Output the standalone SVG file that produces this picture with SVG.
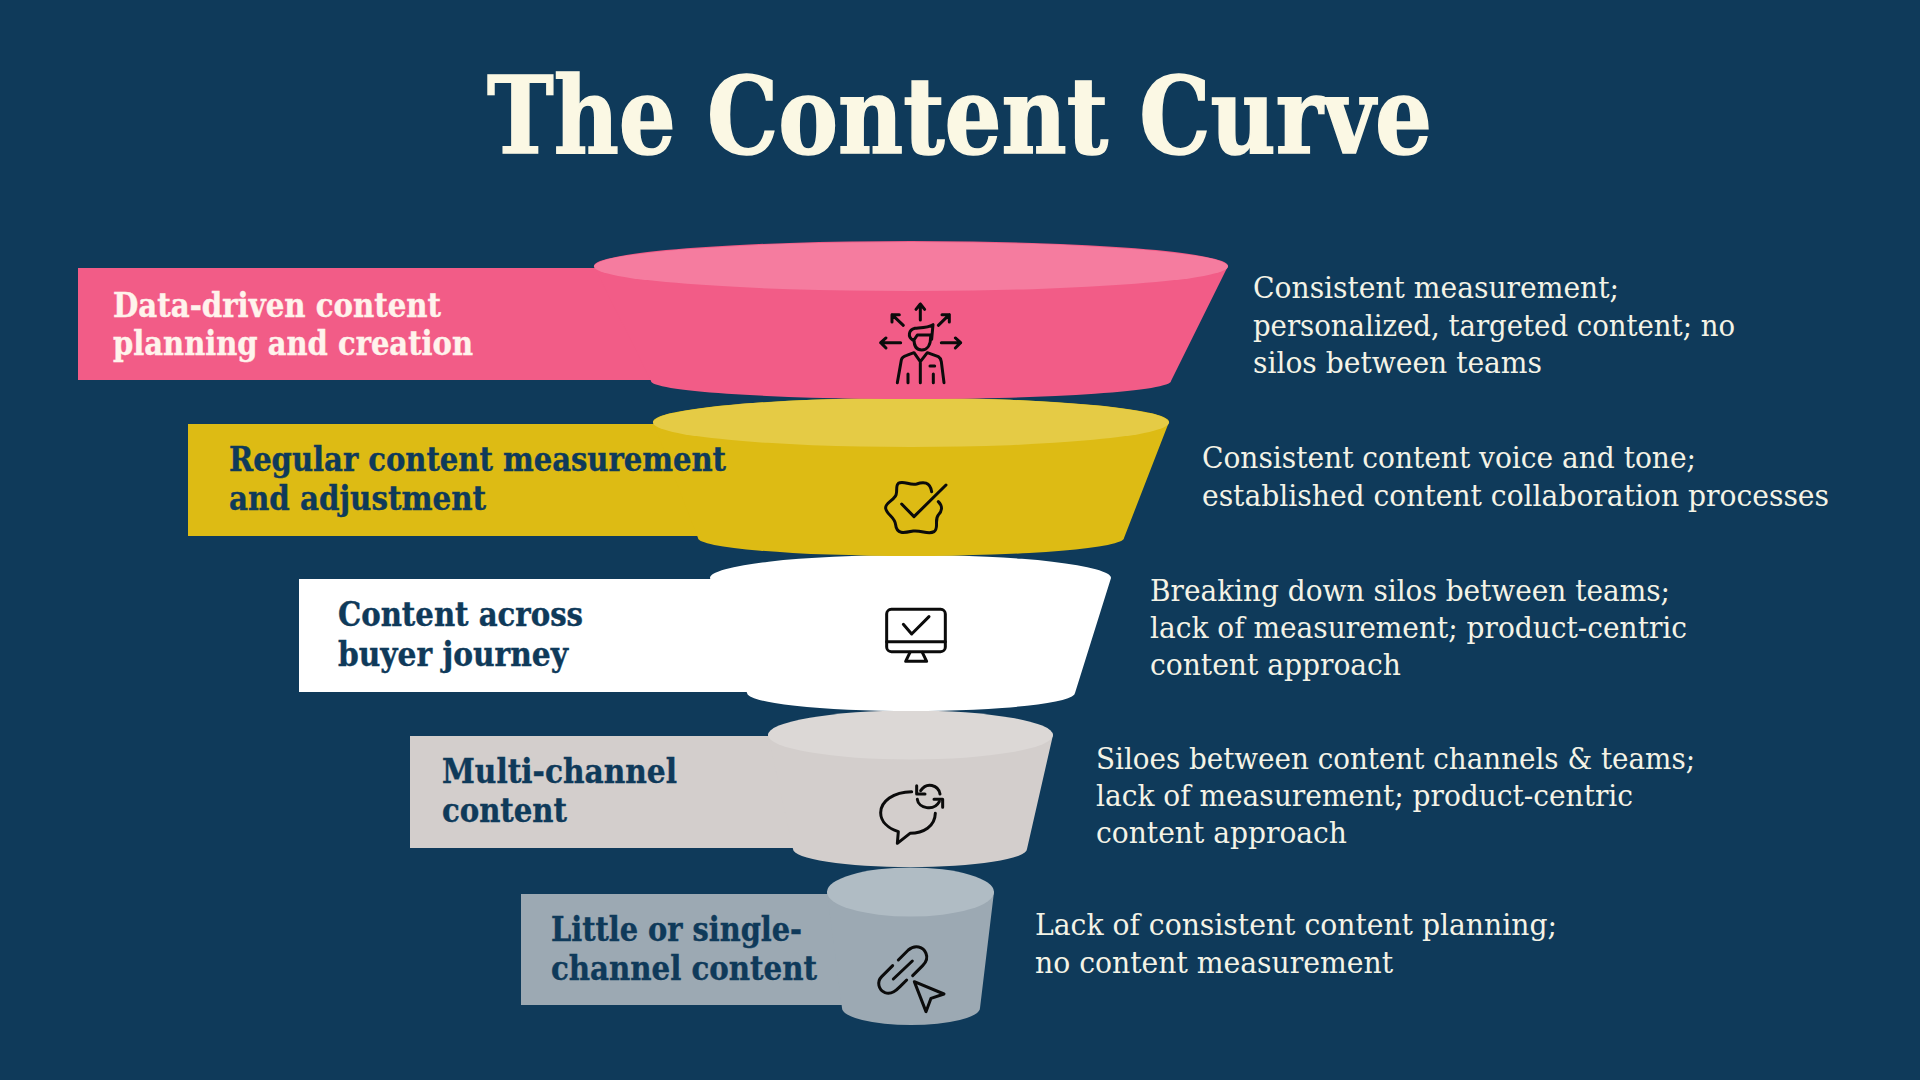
<svg xmlns="http://www.w3.org/2000/svg" width="1920" height="1080" viewBox="0 0 1920 1080">
<style>
text{font-family:"DejaVu Serif Condensed","DejaVu Serif","Liberation Serif",serif}
.title{font-size:106px;font-weight:700;fill:#FBF8E4;stroke:#FBF8E4;stroke-width:1.500}
.lab{font-size:33px;font-weight:700;fill:#0F3A5A;stroke:#0F3A5A;stroke-width:.4}
.labw{font-size:33px;font-weight:700;fill:#FFF3EC;stroke:#FFF3EC;stroke-width:.4}
.desc{font-size:30px;fill:#F4F3E6}
.ic{fill:none;stroke:#0b0b0b;stroke-width:9;stroke-linecap:round;stroke-linejoin:round}
</style>
<rect width="1920" height="1080" fill="#0F3A5A"/>
<text class="title" x="487" y="153" textLength="945" lengthAdjust="spacingAndGlyphs">The Content Curve</text>

<g id="level-5">
<rect x="521" y="894" width="400" height="111" fill="#9CA9B3"/>
<path d="M827,892L842,1008A69,17 0 0 0 980,1008L994,892A84,24 0 0 0 827,892Z" fill="#9CA9B3"/>
<ellipse cx="910.500" cy="892" rx="83.500" ry="24.500" fill="#B0BCC4"/>
<text class="lab" x="551" y="941" textLength="251" lengthAdjust="spacingAndGlyphs">Little or single-</text>
<text class="lab" x="551" y="980" textLength="266" lengthAdjust="spacingAndGlyphs">channel content</text>
<g transform="translate(860,935) scale(.3333)" class="ic">
<path d="M115,75L145,45C165,28 190,35 198,55C205,72 195,85 188,92L158,122M98,92L65,125C50,140 55,165 75,173C95,180 110,165 120,155L140,135M100,132L157,78"/>
<path d="M163,140L252,177L213,190L198,230Z"/>
</g>
<text class="desc" x="1035" y="935" textLength="522" lengthAdjust="spacingAndGlyphs">Lack of consistent content planning;</text>
<text class="desc" x="1035" y="973" textLength="358" lengthAdjust="spacingAndGlyphs">no content measurement</text>
</g>

<g id="level-4">
<rect x="410" y="736" width="500" height="112" fill="#D3CECC"/>
<path d="M768,735L793,849A117,18 0 0 0 1027,849L1053,735A143,24 0 0 0 768,735Z" fill="#D3CECC"/>
<ellipse cx="910.500" cy="735" rx="142.500" ry="24.500" fill="#DCD8D6"/>
<text class="lab" x="442" y="783" textLength="235" lengthAdjust="spacingAndGlyphs">Multi-channel</text>
<text class="lab" x="442" y="822" textLength="125" lengthAdjust="spacingAndGlyphs">content</text>
<g transform="translate(860,770) scale(.3333)" class="ic">
<path d="M155,65C100,65 62,95 62,128C62,155 85,175 115,185L112,220L150,190C190,190 225,170 226,130"/>
<path d="M182,62C200,35 235,45 240,72M172,88C175,115 222,125 238,95"/>
<path d="M170,47L170,72L195,72M222,88L248,88L248,112"/>
</g>
<text class="desc" x="1096" y="769" textLength="599" lengthAdjust="spacingAndGlyphs">Siloes between content channels &amp; teams;</text>
<text class="desc" x="1096" y="806" textLength="537" lengthAdjust="spacingAndGlyphs">lack of measurement; product-centric</text>
<text class="desc" x="1096" y="843" textLength="251" lengthAdjust="spacingAndGlyphs">content approach</text>
</g>

<g id="level-3">
<rect x="299" y="579" width="600" height="113" fill="#FFFFFF"/>
<path d="M710,578L747,693A164,18 0 0 0 1075,693L1111,578A200,23 0 0 0 710,578Z" fill="#FFFFFF"/>
<text class="lab" x="338" y="626" textLength="245" lengthAdjust="spacingAndGlyphs">Content across</text>
<text class="lab" x="338" y="666" textLength="230" lengthAdjust="spacingAndGlyphs">buyer journey</text>
<g transform="translate(860,590) scale(.3333)" class="ic">
<rect x="80" y="58" width="176" height="127" rx="14"/>
<path d="M80,155H256M130,103L155,132L207,80M150,187L137,214H200L187,187"/>
</g>
<text class="desc" x="1150" y="601" textLength="520" lengthAdjust="spacingAndGlyphs">Breaking down silos between teams;</text>
<text class="desc" x="1150" y="638" textLength="537" lengthAdjust="spacingAndGlyphs">lack of measurement; product-centric</text>
<text class="desc" x="1150" y="675" textLength="251" lengthAdjust="spacingAndGlyphs">content approach</text>
</g>

<g id="level-2">
<rect x="188" y="424" width="600" height="112" fill="#DDBB14"/>
<path d="M653,422L698,538A213,18 0 0 0 1124,538L1169,422A258,24 0 0 0 653,422Z" fill="#DDBB14"/>
<ellipse cx="911" cy="422.500" rx="258" ry="24.500" fill="#E5CB45"/>
<text class="lab" x="229" y="471" textLength="497" lengthAdjust="spacingAndGlyphs">Regular content measurement</text>
<text class="lab" x="229" y="510" textLength="257" lengthAdjust="spacingAndGlyphs">and adjustment</text>
<g transform="translate(860,460) scale(.3333)" class="ic">
<path d="M215,95C210,65 190,65 170,72C150,78 130,60 115,70C105,78 115,100 105,110C95,125 75,130 77,145C80,165 105,170 107,195C110,225 135,218 160,213C185,210 205,225 222,215C238,205 222,180 235,165C245,155 250,140 235,125"/>
<path d="M125,132L162,170L258,75"/>
</g>
<text class="desc" x="1202" y="468" textLength="494" lengthAdjust="spacingAndGlyphs">Consistent content voice and tone;</text>
<text class="desc" x="1202" y="506" textLength="627" lengthAdjust="spacingAndGlyphs">established content collaboration processes</text>
</g>

<g id="level-1">
<rect x="78" y="268" width="600" height="112" fill="#F25C87"/>
<path d="M594,266L651,381A260,18 0 0 0 1171,381L1228,266A317,25 0 0 0 594,266Z" fill="#F25C87"/>
<ellipse cx="911" cy="266.500" rx="317" ry="24.500" fill="#F57C9F"/>
<text class="labw" x="113" y="317" textLength="328" lengthAdjust="spacingAndGlyphs">Data-driven content</text>
<text class="labw" x="113" y="355" textLength="360" lengthAdjust="spacingAndGlyphs">planning and creation</text>
<g transform="translate(840,280) scale(.3333)" class="ic">
<path d="M241,120V72M228,88L241,72L254,88M190,136L156,104M156,126V104H178M295,136L328,104M306,104H328V126M182,188H122M138,174L122,188L138,204M304,188H362M346,174L362,188L346,204"/>
<path d="M218,180C203,170 205,150 225,145C245,143 265,143 279,134L275,178M222,178C222,200 230,210 245,210C262,210 272,195 272,170M222,180L232,165L272,165"/>
<path d="M172,308L184,240Q186,230 200,226L222,218L241,245L262,218L295,230Q302,234 304,245L312,308M241,245V308M204,282V308M280,282V308M270,258H284"/>
</g>
<text class="desc" x="1253" y="298" textLength="366" lengthAdjust="spacingAndGlyphs">Consistent measurement;</text>
<text class="desc" x="1253" y="336" textLength="482" lengthAdjust="spacingAndGlyphs">personalized, targeted content; no</text>
<text class="desc" x="1253" y="373" textLength="289" lengthAdjust="spacingAndGlyphs">silos between teams</text>
</g>
</svg>
